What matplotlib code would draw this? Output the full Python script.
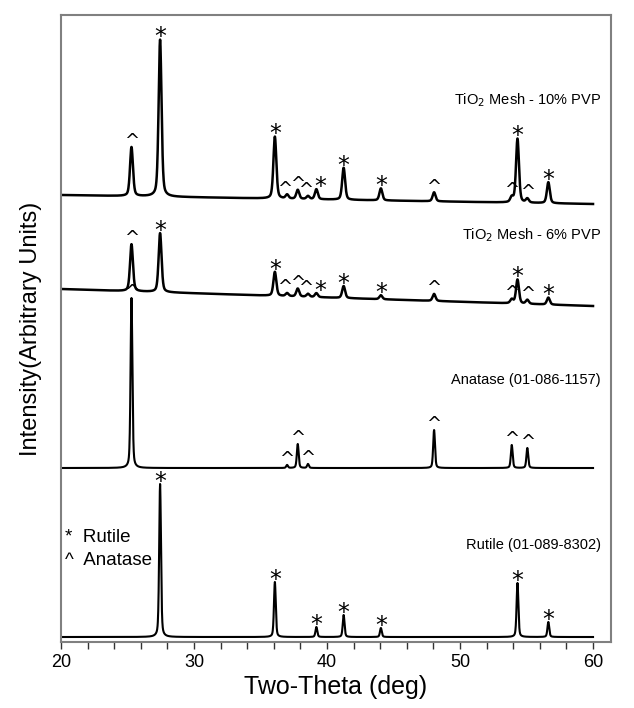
import numpy as np
import matplotlib
matplotlib.use('Agg')
import matplotlib.pyplot as plt
from matplotlib.ticker import MultipleLocator

plt.rcParams['font.family'] = ['Liberation Sans', 'DejaVu Sans']

# Peak lists (2-theta in deg, height in arbitrary units)
rutile_pos = [27.45, 36.08, 39.20, 41.25, 44.05, 54.32, 56.64]
rutile_int = [153, 55, 10, 22, 9, 54, 15]

anatase_pos = [25.30, 37.00, 37.80, 38.57, 48.05, 53.89, 55.06]
anatase_int = [170, 3, 24, 4, 38, 23, 20]

mesh_pos = [25.30, 27.45, 36.08, 37.00, 37.80, 38.57, 39.20,
            41.25, 44.05, 48.05, 53.89, 54.32, 55.06, 56.64]
mesh_phase = ['^', '*', '*', '^', '^', '^', '*', '*', '*', '^', '^', '*', '^', '*']
pvp6_int = [47, 59, 24, 3, 8, 3, 4, 12, 4, 7, 4, 24, 4, 7]
pvp10_int = [49, 157, 62, 4, 9, 3, 10, 32, 12, 9, 5, 64, 4, 21]

# baseline offsets of the stacked traces (value at 20 deg, value at 60 deg)
rutile_base = (5, 5)
anatase_base = (174, 174)
pvp6_base = (353, 336)
pvp10_base = (447, 438)

trace_labels = ['TiO$_2$ Mesh - 10% PVP', 'TiO$_2$ Mesh - 6% PVP',
                'Anatase (01-086-1157)', 'Rutile (01-089-8302)']
label_y = [542, 407, 262, 97]

# small sideways nudge (points) for the crowded markers of the mesh traces
mesh_nudge = {37.00: -2, 38.57: -2, 39.20: 3}

x = np.linspace(20, 60, 4001)


def pattern(pos, heights, fwhm, base):
    y = np.interp(x, [20, 60], base)
    for p, h in zip(pos, heights):
        g = np.exp(-4 * np.log(2) * ((x - p) / fwhm) ** 2)
        lor = 1 / (1 + 4 * ((x - p) / fwhm) ** 2)
        y = y + h * (0.6 * g + 0.4 * lor)
    return y


traces = [
    (pattern(mesh_pos, pvp10_int, 0.26, pvp10_base), mesh_pos, mesh_phase, 1.8),
    (pattern(mesh_pos, pvp6_int, 0.26, pvp6_base), mesh_pos, mesh_phase, 1.8),
    (pattern(anatase_pos, anatase_int, 0.16, anatase_base), anatase_pos, ['^'] * 7, 1.5),
    (pattern(rutile_pos, rutile_int, 0.16, rutile_base), rutile_pos, ['*'] * 7, 1.5),
]

fig = plt.figure(figsize=(6.34, 7.08), dpi=100)
ax = fig.add_axes([0.0962, 0.0932, 0.8675, 0.8856])

for i, ((y, pos, phase, lw), lab, ly) in enumerate(zip(traces, trace_labels, label_y)):
    ax.plot(x, y, color='black', lw=lw)
    for p, m in zip(pos, phase):
        top = np.interp(p, x, y)
        dx = mesh_nudge.get(p, 0) if i < 2 else 0
        if m == '*':
            ax.annotate('*', (p, top), xytext=(dx, -3.5), textcoords='offset points',
                        ha='center', va='baseline', fontsize=17,
                        family='DejaVu Sans')
        else:
            ax.annotate('^', (p, top), xytext=(dx, 0.5), textcoords='offset points',
                        ha='center', va='baseline', fontsize=13,
                        family='DejaVu Sans')
    ax.text(60.6, ly, lab, ha='right', va='center', fontsize=10.5)

ax.text(20.3, 105, '*  Rutile', ha='left', va='center', fontsize=13.5)
ax.text(20.3, 82, '^  Anatase', ha='left', va='center', fontsize=13.5)

ax.set_xlim(20, 61.35)
ax.set_ylim(0, 627)
ax.set_yticks([])
ax.xaxis.set_major_locator(MultipleLocator(10))
ax.xaxis.set_minor_locator(MultipleLocator(2))
ax.tick_params(axis='x', which='both', direction='out', length=5, width=1,
               color='#333333', labelsize=13, top=False)
for s in ax.spines.values():
    s.set_color('#808080')
    s.set_linewidth(1.5)

ax.set_xlabel('Two-Theta (deg)', fontsize=18, labelpad=3)
ax.set_ylabel('Intensity(Arbitrary Units)', fontsize=17, labelpad=14)

fig.savefig('out.png', dpi=100)
